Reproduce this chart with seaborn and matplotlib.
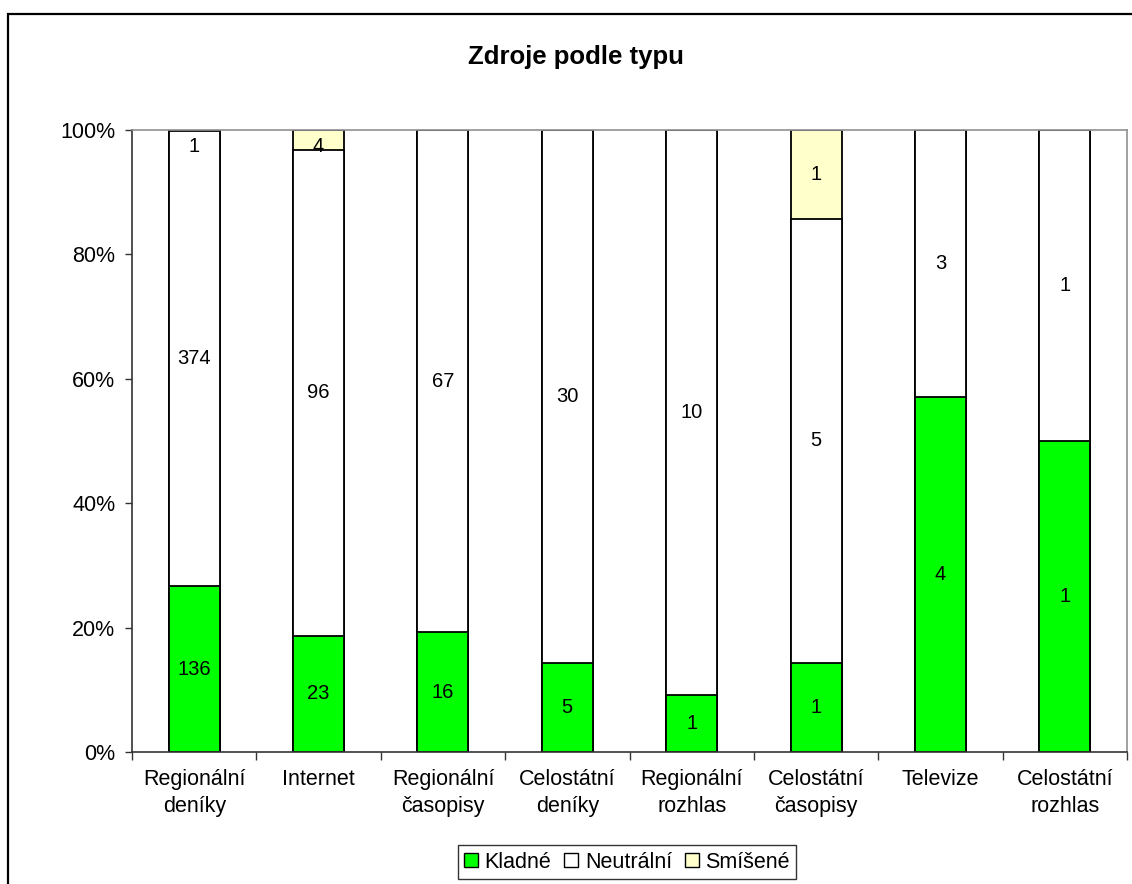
import numpy as np
import pandas as pd
import matplotlib
matplotlib.use("Agg")
import matplotlib.pyplot as plt
import seaborn as sns
from matplotlib.patches import Rectangle, Patch
from matplotlib.ticker import PercentFormatter

# data
categories = ["Regionální\ndeníky", "Internet", "Regionální\nčasopisy", "Celostátní\ndeníky",
              "Regionální\nrozhlas", "Celostátní\nčasopisy", "Televize", "Celostátní\nrozhlas"]
kladne = [136, 23, 16, 5, 1, 1, 4, 1]
neutralni = [374, 96, 67, 30, 10, 5, 3, 1]
smisene = [1, 4, 0, 0, 0, 1, 0, 0]

series_names = ["Kladné", "Neutrální", "Smíšené"]
colors = ["#00FF00", "#FFFFFF", "#FFFFCC"]

sns.set_style("white")
plt.rcParams['font.family'] = ['Liberation Sans', 'DejaVu Sans']
plt.rcParams['text.color'] = 'black'
plt.rcParams['xtick.color'] = 'black'
plt.rcParams['ytick.color'] = 'black'

df = pd.DataFrame({"kat": categories, "Kladné": kladne, "Neutrální": neutralni, "Smíšené": smisene})
total = df[series_names].sum(axis=1)
pct = df[series_names].div(total, axis=0) * 100
cum = pct.cumsum(axis=1)

fig = plt.figure(figsize=(11.32, 8.84), dpi=100)
ax = fig.add_axes([132 / 1132, 1 - 752 / 884, (1127 - 132) / 1132, (752 - 130) / 884])

# stacked bars: draw cumulative totals from the top layer down
for name, col in zip(series_names[::-1], colors[::-1]):
    sns.barplot(x=df["kat"], y=cum[name], color=col, width=0.41, edgecolor="black",
                linewidth=1.3, saturation=1, ax=ax, zorder=2)

# value labels in the middle of each segment
for i in range(len(categories)):
    bottom = 0
    for name in series_names:
        v = df.loc[i, name]
        h = pct.loc[i, name]
        if v > 0:
            yc = min(bottom + h / 2, 97.3)
            ax.text(i, yc, str(v), ha="center", va="center", fontsize=14.5, zorder=5)
        bottom += h

ax.set_ylim(0, 100)
ax.set_xlim(-0.5, len(categories) - 0.5)
ax.set_yticks(np.arange(0, 101, 20))
ax.yaxis.set_major_formatter(PercentFormatter(decimals=0))
ax.set_xlabel("")
ax.set_ylabel("")
ax.tick_params(axis="y", which="major", length=5, width=1, direction="out", pad=7,
               labelsize=15.5, color="#333333", left=True)
ax.tick_params(axis="x", which="major", length=0, pad=12, labelsize=15.5)
ax.set_xticks(np.arange(-0.5, len(categories)), minor=True)
ax.tick_params(axis="x", which="minor", length=6, width=1, direction="out", color="#333333", bottom=True)
for lbl in ax.get_xticklabels():
    lbl.set_linespacing(1.4)

for s in ["left", "bottom"]:
    ax.spines[s].set_color("#333333")
    ax.spines[s].set_linewidth(1.2)
for s in ["top", "right"]:
    ax.spines[s].set_color("#909090")
    ax.spines[s].set_linewidth(1.2)
    ax.spines[s].set_visible(True)

fig.text(576 / 1132, 1 - 57 / 884, "Zdroje podle typu", ha="center", va="center",
         fontsize=18.5, fontweight="bold")

handles = [Patch(facecolor=c, edgecolor="black", linewidth=1) for c in colors]
leg = fig.legend(handles, series_names, loc="center", bbox_to_anchor=(627 / 1132, 1 - 862 / 884),
                 ncol=3, frameon=True, fancybox=False, fontsize=15.5, handlelength=0.65,
                 handleheight=0.65, handletextpad=0.3, columnspacing=0.6, borderpad=0.3)
leg.get_frame().set_edgecolor("black")
leg.get_frame().set_linewidth(1)

# outer chart frame (cut off at right and bottom)
fig.add_artist(Rectangle((8 / 1132, -0.1), 1.2, 1.1 - 14 / 884, transform=fig.transFigure,
                         fill=False, edgecolor="black", linewidth=1.6))

fig.savefig("out.png", dpi=100)
